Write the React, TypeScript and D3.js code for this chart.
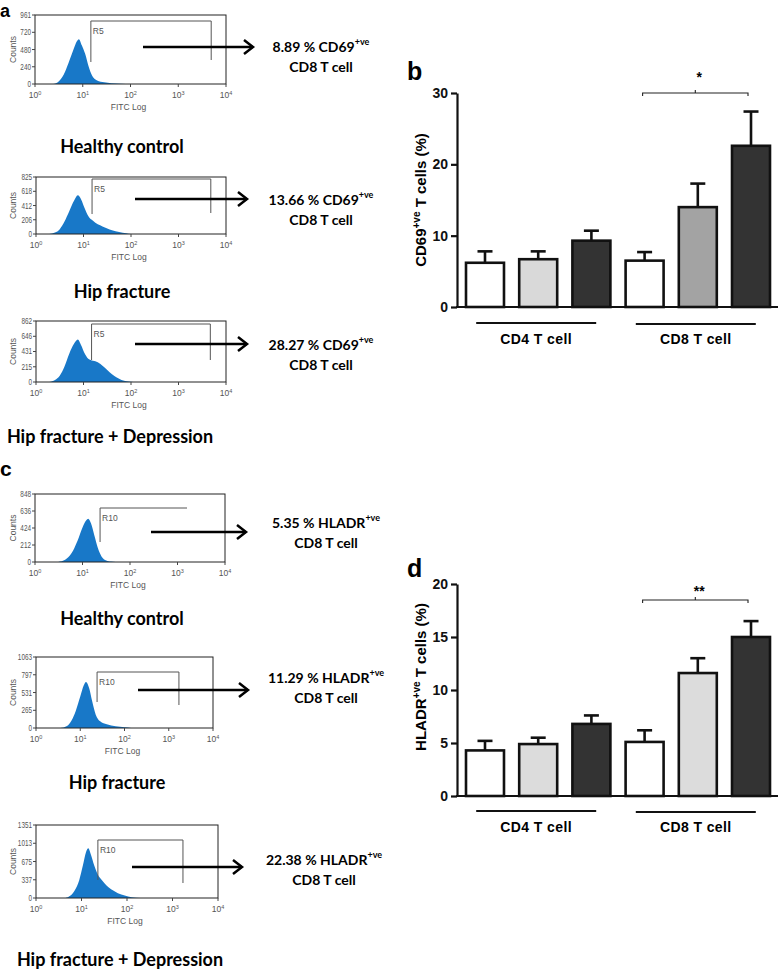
import React, { useEffect, useRef } from 'react';
import * as d3 from 'd3';

// cohorts and cell groups
const cohorts = ['Healthy control', 'Hip fracture', 'Hip fracture + Depression'];
const cellGroups = ['CD4 T cell', 'CD8 T cell'];

// flow histograms, [log10 FITC, counts]
const cd69Healthy = [[0.38, 0], [0.5, 40], [0.6, 130], [0.7, 290], [0.8, 470], [0.88, 600], [0.92, 625], [0.98, 540], [1.05, 420], [1.12, 250], [1.2, 110], [1.3, 50], [1.45, 25], [1.6, 12], [1.8, 5], [2.0, 0]];
const cd69Hip = [[0.28, 0], [0.4, 20], [0.5, 70], [0.6, 180], [0.7, 330], [0.8, 480], [0.88, 560], [0.95, 500], [1.02, 380], [1.1, 260], [1.2, 190], [1.3, 140], [1.4, 110], [1.5, 80], [1.6, 55], [1.75, 30], [1.9, 12], [2.0, 0]];
const cd69HipDep = [[0.28, 0], [0.4, 30], [0.5, 90], [0.6, 220], [0.7, 400], [0.8, 540], [0.88, 600], [0.95, 520], [1.02, 410], [1.1, 330], [1.2, 300], [1.3, 280], [1.4, 230], [1.5, 170], [1.6, 110], [1.7, 65], [1.8, 30], [1.95, 8], [2.05, 0]];
const hladrHealthy = [[0.45, 0], [0.6, 20], [0.7, 60], [0.8, 140], [0.9, 270], [1.0, 430], [1.08, 520], [1.12, 540], [1.18, 480], [1.25, 330], [1.32, 180], [1.4, 70], [1.5, 20], [1.6, 5], [1.7, 0]];
const hladrHip = [[0.55, 0], [0.7, 30], [0.8, 110], [0.9, 260], [1.0, 470], [1.08, 640], [1.13, 690], [1.2, 600], [1.27, 400], [1.35, 200], [1.45, 100], [1.6, 55], [1.8, 25], [2.0, 10], [2.15, 0]];
const hladrHipDep = [[0.65, 0], [0.75, 40], [0.85, 140], [0.95, 330], [1.03, 600], [1.1, 850], [1.15, 920], [1.2, 820], [1.28, 600], [1.36, 430], [1.45, 330], [1.55, 230], [1.65, 160], [1.8, 90], [1.95, 45], [2.1, 15], [2.3, 0]];

const cd69CountTicks = [[0, 240, 480, 720, 961], [0, 206, 412, 618, 825], [0, 215, 431, 646, 862]];
const hladrCountTicks = [[0, 212, 424, 636, 848], [0, 265, 531, 797, 1063], [0, 337, 675, 1013, 1351]];
const decades = [0, 1, 2, 3, 4];

const cd69Gates = [[1.17, 3.69], [1.18, 3.68], [1.17, 3.67]];
const hladrGates = [[1.37, 3.2], [1.38, 3.23], [1.36, 3.23]];
const cd69Pct = ['8.89', '13.66', '28.27'];
const hladrPct = ['5.35', '11.29', '22.38'];

// bar charts: HC, HF, HF+D for CD4 then CD8
const cd69Mean = [6.2, 6.7, 9.3, 6.5, 14.0, 22.6];
const cd69Sem = [1.6, 1.1, 1.4, 1.2, 3.3, 4.8];
const hladrMean = [4.3, 4.9, 6.8, 5.1, 11.6, 15.0];
const hladrSem = [0.9, 0.6, 0.8, 1.1, 1.4, 1.5];

const BLUE = '#1878c8';
const LABEL_FONT = 'Lato, "Open Sans", sans-serif';
const ARIAL = '"Liberation Sans", Arial, sans-serif';

function drawFlow(root, o) {
  const { box, pts, ticks, gate, gy, gateName, arrow, pct, marker, cohort, cpos } = o;
  const g = root.append('g');
  const x = d3.scaleLinear().domain([0, 4]).range([box.l, box.r]);
  const y = d3.scaleLinear().domain([0, ticks[ticks.length - 1]]).range([box.b, box.t]);

  const area = d3.area()
    .x(d => x(d[0]))
    .y0(box.b)
    .y1(d => y(d[1]))
    .curve(d3.curveMonotoneX);
  g.append('path').datum(pts).attr('d', area).attr('fill', BLUE);

  g.append('rect')
    .attr('x', box.l).attr('y', box.t)
    .attr('width', box.r - box.l).attr('height', box.b - box.t)
    .attr('fill', 'none').attr('stroke', '#222').attr('stroke-width', 1);

  ticks.forEach(t => {
    g.append('line').attr('x1', box.l - 3).attr('x2', box.l).attr('y1', y(t)).attr('y2', y(t))
      .attr('stroke', '#444');
    g.append('text').attr('x', box.l - 4).attr('y', y(t) + 3)
      .attr('text-anchor', 'end').attr('font-size', 8.5).attr('fill', '#555')
      .attr('font-family', ARIAL).attr('transform', `translate(${box.l - 4},0) scale(0.75,1) translate(${-(box.l - 4)},0)`)
      .text(t);
  });

  decades.forEach(e => {
    g.append('line').attr('x1', x(e)).attr('x2', x(e)).attr('y1', box.b).attr('y2', box.b + 3)
      .attr('stroke', '#444');
    const t = g.append('text').attr('x', x(e)).attr('y', box.b + 14)
      .attr('text-anchor', 'middle').attr('font-size', 8.5).attr('fill', '#555').attr('font-family', ARIAL);
    t.append('tspan').text('10');
    t.append('tspan').attr('dy', -3.5).attr('font-size', 5.5).text(e);
  });

  g.append('text').attr('x', (box.l + box.r) / 2 - 2).attr('y', box.b + 26)
    .attr('text-anchor', 'middle').attr('font-size', 8.5).attr('fill', '#555').attr('font-family', ARIAL)
    .text('FITC Log');

  g.append('text')
    .attr('transform', `translate(16,${(box.t + box.b) / 2}) rotate(-90)`)
    .attr('text-anchor', 'middle').attr('font-size', 8.5).attr('fill', '#555').attr('font-family', ARIAL)
    .text('Counts');

  // gate
  const gl = x(gate[0]), gr = x(gate[1]);
  const gatePath = d3.path();
  gatePath.moveTo(gl, gy.low);
  gatePath.lineTo(gl, gy.top);
  gatePath.lineTo(gr, gy.top);
  gatePath.lineTo(gr, gy.right);
  g.append('path').attr('d', gatePath.toString()).attr('fill', 'none')
    .attr('stroke', '#555').attr('stroke-width', 1);
  g.append('text').attr('x', gl + 2).attr('y', gy.top + 13)
    .attr('font-size', 8.5).attr('fill', '#555').attr('font-family', ARIAL).text(gateName);

  // arrow
  g.append('line').attr('x1', arrow.x0).attr('x2', arrow.x1).attr('y1', arrow.y).attr('y2', arrow.y)
    .attr('stroke', '#000').attr('stroke-width', 2.5);
  g.append('path')
    .attr('d', `M${arrow.x1 - 9},${arrow.y - 7}L${arrow.x1},${arrow.y}L${arrow.x1 - 9},${arrow.y + 7}`)
    .attr('fill', 'none').attr('stroke', '#000').attr('stroke-width', 2.5);

  const t1 = g.append('text').attr('x', arrow.tx).attr('y', arrow.ty)
    .attr('text-anchor', 'middle').attr('font-family', LABEL_FONT).attr('font-weight', 700)
    .attr('font-size', 14);
  t1.append('tspan').text(`${pct} % ${marker}`);
  t1.append('tspan').attr('dy', -7).attr('font-size', 9).text('+ve');
  g.append('text').attr('x', arrow.tx).attr('y', arrow.ty + 20)
    .attr('text-anchor', 'middle').attr('font-family', LABEL_FONT).attr('font-weight', 700)
    .attr('font-size', 14).text('CD8 T cell');

  g.append('text').attr('x', cpos[0]).attr('y', cpos[1])
    .attr('text-anchor', 'middle').attr('font-family', LABEL_FONT).attr('font-weight', 700)
    .attr('font-size', 18).text(cohort);
}

function drawBars(root, o) {
  const { mean, sem, colors, max, ticks, top, bottom, marker, stars, starY, bracketY, groupY, letter, letterY, labelY } = o;
  const g = root.append('g');
  const x = d3.scaleBand().domain(d3.range(mean.length)).range([466, 770]).paddingInner(0.286).paddingOuter(0);
  const y = d3.scaleLinear().domain([0, max]).range([bottom, top]);
  const bw = x.bandwidth();
  const cx = i => x(i) + bw / 2;

  g.append('text').attr('x', 407).attr('y', letterY).attr('font-family', ARIAL)
    .attr('font-weight', 700).attr('font-size', 25).text(letter);

  const axis = d3.axisLeft(y).tickValues(ticks).tickSize(6).tickSizeOuter(0).tickPadding(3);
  const ax = g.append('g').attr('transform', 'translate(457,0)').call(axis);
  ax.select('.domain').attr('stroke-width', 2.2).attr('stroke', '#111');
  ax.selectAll('.tick line').attr('stroke-width', 2.2).attr('stroke', '#111');
  ax.selectAll('.tick text').attr('font-family', ARIAL).attr('font-weight', 700)
    .attr('font-size', 14).attr('fill', '#111');

  g.append('line').attr('x1', 456).attr('x2', 778).attr('y1', y(0)).attr('y2', y(0))
    .attr('stroke', '#111').attr('stroke-width', 2.2);

  mean.forEach((m, i) => {
    const c = cx(i);
    g.append('line').attr('x1', c).attr('x2', c).attr('y1', y(m)).attr('y2', y(m + sem[i]))
      .attr('stroke', '#111').attr('stroke-width', 2.6);
    g.append('line').attr('x1', c - 7.5).attr('x2', c + 7.5).attr('y1', y(m + sem[i])).attr('y2', y(m + sem[i]))
      .attr('stroke', '#111').attr('stroke-width', 2.6);
    g.append('rect').attr('x', x(i)).attr('y', y(m)).attr('width', bw).attr('height', y(0) - y(m))
      .attr('fill', colors[i]).attr('stroke', '#111').attr('stroke-width', 2.6);
  });

  // significance bracket between HC and HF+D in CD8
  const b0 = cx(3) - 2, b1 = cx(5) - 3, bm = (b0 + b1) / 2;
  g.append('path')
    .attr('d', `M${b0},${bracketY + 3}V${bracketY}H${b1}V${bracketY + 3}M${bm},${bracketY}V${bracketY - 3}`)
    .attr('fill', 'none').attr('stroke', '#222').attr('stroke-width', 1.1);
  g.append('text').attr('x', bm + 4).attr('y', starY).attr('text-anchor', 'middle')
    .attr('font-family', ARIAL).attr('font-weight', 700).attr('font-size', 14).text(stars);

  cellGroups.forEach((name, gi) => {
    const mid = (x(gi * 3) + x(gi * 3 + 2) + bw) / 2 - 2;
    g.append('line').attr('x1', mid - 60).attr('x2', mid + 60).attr('y1', groupY + gi).attr('y2', groupY + gi)
      .attr('stroke', '#111').attr('stroke-width', 2);
    g.append('text').attr('x', mid).attr('y', groupY + 21).attr('text-anchor', 'middle')
      .attr('font-family', ARIAL).attr('font-weight', 700).attr('font-size', 14)
      .attr('letter-spacing', 0.4).text(name);
  });

  const yl = g.append('text')
    .attr('transform', `translate(426,${labelY}) rotate(-90)`)
    .attr('text-anchor', 'middle').attr('font-family', ARIAL).attr('font-weight', 700).attr('font-size', 15);
  yl.append('tspan').text(marker);
  yl.append('tspan').attr('dy', -6).attr('font-size', 10).text('+ve');
  yl.append('tspan').attr('dy', 6).text('  T cells (%)');
}

export default function App() {
  const ref = useRef(null);

  useEffect(() => {
    const svg = d3.select(ref.current);
    svg.selectAll('*').remove();
    svg.append('rect').attr('width', 778).attr('height', 972).attr('fill', '#fff');

    svg.append('text').attr('x', 0).attr('y', 17).attr('font-family', ARIAL)
      .attr('font-weight', 700).attr('font-size', 18).text('a');
    svg.append('text').attr('x', 0).attr('y', 476).attr('font-family', ARIAL)
      .attr('font-weight', 700).attr('font-size', 21).text('c');

    const boxesA = [{ l: 35, r: 226, t: 15, b: 84 }, { l: 36, r: 226, t: 177, b: 234 }, { l: 36, r: 226, t: 321, b: 382 }];
    const boxesC = [{ l: 35, r: 225, t: 494, b: 562 }, { l: 36, r: 213, t: 657, b: 728 }, { l: 36, r: 218, t: 825, b: 898 }];
    const gyA = [{ top: 21, low: 62, right: 60 }, { top: 179, low: 214, right: 213 }, { top: 324, low: 360, right: 360 }];
    const gyC = [{ top: 508, low: 542, right: 508 }, { top: 672, low: 702, right: 705 }, { top: 840, low: 880, right: 883 }];
    const arrowsA = [{ y: 47, x0: 143, x1: 253, tx: 321, ty: 52 }, { y: 199, x0: 135, x1: 247, tx: 321, ty: 205 }, { y: 344, x0: 135, x1: 247, tx: 321, ty: 350 }];
    const arrowsC = [{ y: 532, x0: 151, x1: 246, tx: 326, ty: 528 }, { y: 690, x0: 138, x1: 248, tx: 326, ty: 683 }, { y: 867, x0: 132, x1: 242, tx: 324, ty: 865 }];
    const cposA = [[122, 153], [122, 298], [110, 443]];
    const cposC = [[122, 625], [117, 789], [120, 966]];

    [cd69Healthy, cd69Hip, cd69HipDep].forEach((pts, i) => drawFlow(svg, {
      box: boxesA[i], pts, ticks: cd69CountTicks[i], gate: cd69Gates[i], gy: gyA[i], gateName: 'R5',
      arrow: arrowsA[i], pct: cd69Pct[i], marker: 'CD69', cohort: cohorts[i], cpos: cposA[i]
    }));
    [hladrHealthy, hladrHip, hladrHipDep].forEach((pts, i) => drawFlow(svg, {
      box: boxesC[i], pts, ticks: hladrCountTicks[i], gate: hladrGates[i], gy: gyC[i], gateName: 'R10',
      arrow: arrowsC[i], pct: hladrPct[i], marker: 'HLADR', cohort: cohorts[i], cpos: cposC[i]
    }));

    drawBars(svg, {
      mean: cd69Mean, sem: cd69Sem, max: 30, ticks: [0, 10, 20, 30], top: 93, bottom: 307,
      colors: ['#ffffff', '#d9d9d9', '#333333', '#ffffff', '#a3a3a3', '#333333'],
      marker: 'CD69', stars: '*', starY: 82, bracketY: 93, groupY: 323, letter: 'b', letterY: 80, labelY: 200
    });
    drawBars(svg, {
      mean: hladrMean, sem: hladrSem, max: 20, ticks: [0, 5, 10, 15, 20], top: 584, bottom: 796,
      colors: ['#ffffff', '#dcdcdc', '#333333', '#ffffff', '#dcdcdc', '#333333'],
      marker: 'HLADR', stars: '**', starY: 596, bracketY: 600, groupY: 811, letter: 'd', letterY: 577, labelY: 677
    });
  }, []);

  return (
    <svg ref={ref} width={778} height={972}
      style={{ position: 'absolute', left: 0, top: 0, display: 'block' }} />
  );
}
